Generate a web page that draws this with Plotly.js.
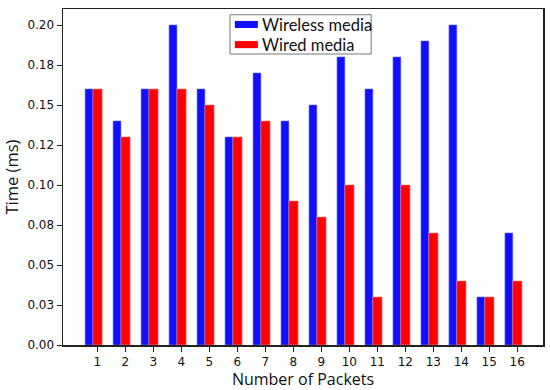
<!DOCTYPE html>
<html>
<head>
<meta charset="utf-8">
<script src="https://cdn.plot.ly/plotly-3.0.1.min.js"></script>
<style>html,body{margin:0;padding:0;background:#fff;}#chart{width:550px;height:390px;}</style>
</head>
<body>
<div id="chart"></div>
<script>
const packets = [1,2,3,4,5,6,7,8,9,10,11,12,13,14,15,16];
const wireless = [0.16,0.14,0.16,0.20,0.16,0.13,0.17,0.14,0.15,0.18,0.16,0.18,0.19,0.20,0.03,0.07];
const wired    = [0.16,0.13,0.16,0.16,0.15,0.13,0.14,0.09,0.08,0.10,0.03,0.10,0.07,0.04,0.03,0.04];
const yTickVals = [0,0.025,0.05,0.075,0.1,0.125,0.15,0.175,0.2];
const yTickText = ['0.00','0.03','0.05','0.08','0.10','0.12','0.15','0.18','0.20'];
const seriesNames = ['Wireless media','Wired media'];
const colors = ['#1010ff','#ff0000'];

const traces = [
  {type:'bar', x:packets, y:wireless, name:seriesNames[0], offset:-0.44, width:0.28,
   marker:{color:colors[0], line:{color:'#6a6aff', width:0.6}}},
  {type:'bar', x:packets, y:wired, name:seriesNames[1], offset:-0.16, width:0.33,
   marker:{color:colors[1], line:{color:'#ff8080', width:0.6}}}
];

// compact legend drawn in paper space (box, swatches, labels)
const legendBox = {x0:0.348, x1:0.642, y0:0.866, y1:0.983};
const swatch = {x0:0.358, x1:0.406, h:0.0105};
const rowY = [0.954, 0.894];
const shapes = [
  {type:'rect', xref:'paper', yref:'paper', x0:legendBox.x0, x1:legendBox.x1, y0:legendBox.y0, y1:legendBox.y1,
   line:{color:'#777', width:1}, fillcolor:'#fff', layer:'above'}
];
const annotations = [];
seriesNames.forEach((n, i) => {
  shapes.push({type:'rect', xref:'paper', yref:'paper', x0:swatch.x0, x1:swatch.x1,
    y0:rowY[i]-swatch.h, y1:rowY[i]+swatch.h, line:{width:0}, fillcolor:colors[i], layer:'above'});
  annotations.push({xref:'paper', yref:'paper', x:0.413, y:rowY[i], xanchor:'left', yanchor:'middle',
    text:n, showarrow:false, height:17, valign:'middle', borderpad:0,
    font:{family:'Lato, sans-serif', size:16.5, color:'#111'}});
});

const axisFont = {family:'DejaVu Sans, sans-serif', size:12, color:'#111'};
const layout = {
  width:550, height:390,
  margin:{l:63, r:7, t:9, b:45},
  paper_bgcolor:'#fff', plot_bgcolor:'#fff',
  barmode:'overlay',
  showlegend:false,
  shapes:shapes,
  annotations:annotations,
  xaxis:{range:[-0.23,16.92], tickvals:packets, ticktext:packets.map(String),
    showline:true, linecolor:'#222', linewidth:1.5, mirror:true,
    ticks:'outside', ticklen:5, tickcolor:'#222', showgrid:false, zeroline:false,
    tickfont:axisFont,
    title:{text:'Number of Packets', font:{family:'Open Sans, sans-serif', size:16, color:'#111'}, standoff:12}},
  yaxis:{range:[0,0.21], tickvals:yTickVals, ticktext:yTickText,
    showline:true, linecolor:'#222', linewidth:1.5, mirror:true,
    ticks:'outside', ticklen:5, tickcolor:'#222', showgrid:false, zeroline:false,
    tickfont:axisFont,
    title:{text:'Time (ms)', font:{family:'Open Sans, sans-serif', size:16.5, color:'#111'}, standoff:5}}
};
Plotly.newPlot('chart', traces, layout, {staticPlot:true, displayModeBar:false});
</script>
</body>
</html>
